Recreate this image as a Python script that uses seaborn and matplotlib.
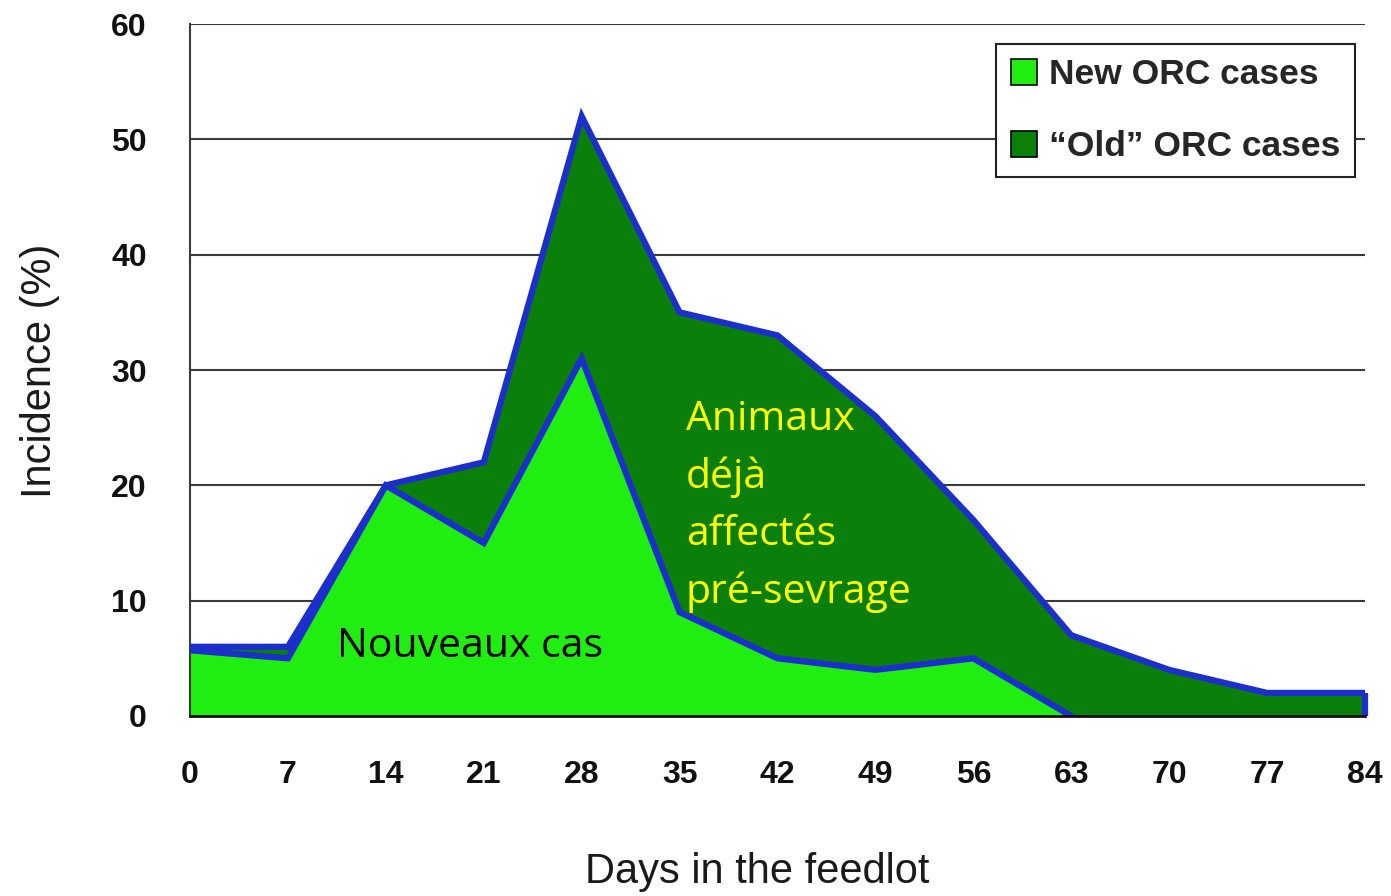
import matplotlib

matplotlib.use("Agg")

import matplotlib.pyplot as plt
import pandas as pd
import seaborn as sns
from matplotlib.patches import Patch

# values
days = [0, 7, 14, 21, 28, 35, 42, 49, 56, 63, 70, 77, 84]
new_cases = [5.7, 5, 20, 15, 31, 9, 5, 4, 5, 0, 0, 0, 0]
all_cases = [6, 6, 20, 22, 52, 35, 33, 26, 17, 7, 4, 2, 2]
y_ticks = [0, 10, 20, 30, 40, 50, 60]
legend_labels = ["New ORC cases", "\u201cOld\u201d ORC cases"]
note_new = "Nouveaux cas"
note_old = "Animaux\ndéjà\naffectés\npré-sevrage"

LIGHT = "#20ee10"
DARK = "#0a7f0a"
BLUE = "#1c2ecc"
GRID = "#3a3a3a"

df = pd.DataFrame({"day": days, "new": new_cases, "total": all_cases})

sns.set_style("white")
plt.rcParams["font.family"] = ["Liberation Sans", "DejaVu Sans"]

fig = plt.figure(figsize=(13.91, 8.96), dpi=100)
ax = fig.add_axes([0.1366, 0.2009, 0.8447, 0.7723])

ax.fill_between(df["day"], 0, df["new"], color=LIGHT, lw=0, zorder=2)
ax.fill_between(df["day"], df["new"], df["total"], color=DARK, lw=0, zorder=2)

sns.lineplot(data=df, x="day", y="total", color=BLUE, lw=4.5, ax=ax,
             zorder=4, solid_joinstyle="miter")
sns.lineplot(data=df[df["day"] <= 63], x="day", y="new", color=BLUE, lw=4.5,
             ax=ax, zorder=4, solid_joinstyle="miter")
ax.vlines(days[-1], 0, all_cases[-1], color=BLUE, lw=4.5, zorder=4, clip_on=False)

ax.set_xlim(days[0], days[-1])
ax.set_ylim(y_ticks[0], y_ticks[-1])
ax.set_xticks(days)
ax.set_yticks(y_ticks)
ax.set_axisbelow(True)
ax.yaxis.grid(True, color=GRID, lw=1.5)
ax.xaxis.grid(False)

for side in ("top", "right"):
    ax.spines[side].set_visible(False)
ax.spines["left"].set_color(GRID)
ax.spines["left"].set_linewidth(1.5)
ax.spines["bottom"].set_color("#111111")
ax.spines["bottom"].set_linewidth(2)
ax.spines["bottom"].set_zorder(5)

ax.tick_params(axis="y", direction="out", length=9, width=1.5, color=GRID,
               pad=22, labelsize=23)
ax.tick_params(axis="x", direction="out", length=12, width=1.5, color=GRID,
               pad=20, labelsize=23)
for lab in ax.get_xticklabels() + ax.get_yticklabels():
    lab.set_fontweight("bold")
    lab.set_color("#111111")

ax.set_xlabel("Days in the feedlot", fontsize=30, color="#1a1a1a")
ax.set_ylabel("Incidence (%)", fontsize=30, color="#1a1a1a")
ax.xaxis.set_label_coords(0.483, -0.1965)
ax.yaxis.set_label_coords(-0.1106, 0.4986)

ax.text(10.5, 6.0, note_new, fontsize=29.5, color="black", family="Open Sans",
        va="center", ha="left", zorder=6)
ax.text(35.45, 27.4, note_old, fontsize=29.5, color="#ffff00", family="Open Sans",
        va="top", ha="left", linespacing=1.52, zorder=6)

handles = [Patch(facecolor=LIGHT, edgecolor="black", lw=1.2),
           Patch(facecolor=DARK, edgecolor="black", lw=1.2)]
leg = ax.legend(handles, legend_labels, loc="upper right",
                bbox_to_anchor=(0.9915, 0.971), borderaxespad=0,
                fancybox=False, framealpha=1, edgecolor="#222222",
                prop={"weight": "bold", "size": 25.5}, handlelength=0.75,
                handleheight=0.75, handletextpad=0.35, labelspacing=1.1,
                borderpad=0.4)
leg.get_frame().set_linewidth(1.5)

fig.savefig("out.png", dpi=100)
